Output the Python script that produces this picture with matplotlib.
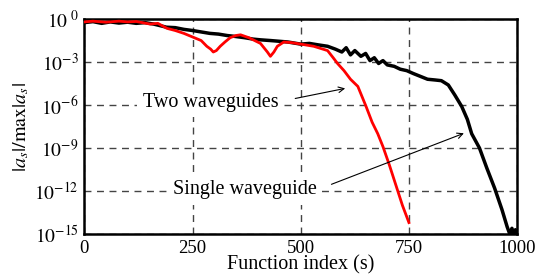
import numpy as np
import matplotlib
matplotlib.use("Agg")
import matplotlib.pyplot as plt

plt.rcParams['font.family'] = ['Liberation Serif', 'DejaVu Serif']
plt.rcParams['mathtext.fontset'] = 'stix'

# two waveguides (black), log10 of normalised coefficient
two_x = [0, 20, 40, 60, 80, 100, 120, 140, 160, 190, 210, 230, 250, 270, 290, 310, 330, 345,
         370, 390, 407, 430, 450, 470, 500, 520, 540, 562, 580, 595, 605, 615, 625, 639,
         650, 660, 670, 680, 690, 700, 716, 730, 745, 760, 793, 810, 825, 841, 856, 872,
         885, 895, 913, 930, 948, 965, 977, 983, 988, 992, 996, 1000]
two_y = [-0.25, -0.18, -0.3, -0.2, -0.28, -0.22, -0.3, -0.25, -0.35, -0.57, -0.6, -0.72, -0.8,
         -0.9, -1.0, -1.05, -1.15, -1.2, -1.3, -1.4, -1.45, -1.5, -1.55, -1.6, -1.75, -1.7,
         -1.8, -1.9, -2.1, -2.3, -2.0, -2.5, -2.2, -2.6, -2.4, -2.9, -2.7, -3.1, -2.9, -3.2,
         -3.3, -3.5, -3.6, -3.8, -4.2, -4.25, -4.3, -4.6, -5.3, -6.1, -7.0, -8.0, -9.0,
         -10.4, -11.8, -13.3, -14.5, -15.0, -14.6, -15.0, -14.7, -14.9]

# single waveguide (red)
one_x = [0, 20, 50, 80, 100, 120, 152, 170, 191, 210, 230, 250, 270, 283, 292, 298, 305, 314,
         325, 337, 350, 361, 380, 407, 423, 430, 438, 446, 461, 480, 500, 530, 562, 575, 585,
         600, 615, 632, 651, 665, 678, 690, 705, 720, 735, 750]
one_y = [-0.2, -0.15, -0.22, -0.15, -0.2, -0.17, -0.35, -0.3, -0.65, -0.8, -1.0, -1.25, -1.5,
         -1.9, -2.1, -2.3, -2.2, -1.9, -1.6, -1.3, -1.15, -1.1, -1.3, -1.7, -2.3, -2.6, -2.3,
         -1.9, -1.6, -1.65, -1.75, -1.9, -2.2, -2.7, -3.1, -3.6, -4.2, -4.7, -6.1, -7.2, -8.0,
         -8.9, -10.2, -11.6, -13.0, -14.2]

x_ticks = [0, 250, 500, 750, 1000]
y_exps = [0, -3, -6, -9, -12, -15]

fig = plt.figure(figsize=(5.37, 2.76), dpi=100)
ax = fig.add_axes([0.157, 0.152, 0.806, 0.779])

ax.semilogy(two_x, 10.0 ** np.array(two_y), color='black', lw=2.5, zorder=3)
ax.semilogy(one_x, 10.0 ** np.array(one_y), color='red', lw=2.0, zorder=4)

ax.set_xlim(0, 1000)
ax.set_ylim(1e-15, 1e0)
ax.set_xticks(x_ticks)
ax.set_xticklabels([str(t) for t in x_ticks], fontsize=13.5)
ax.set_yticks([10.0 ** e for e in y_exps])
ax.set_yticklabels([r'$10^{%d}$' % e if e else r'$10^{\ 0}$' for e in y_exps], fontsize=14)
ax.minorticks_off()
ax.tick_params(length=0, pad=4)
ax.grid(True, color='#444444', ls=(0, (5, 4)), lw=1.0, zorder=1)
for s in ax.spines.values():
    s.set_linewidth(1.8)

ax.set_xlabel('Function index (s)', fontsize=14.5, labelpad=-1)
ax.set_ylabel(r'$|a_s|/\max|a_s|$', fontsize=14.5, labelpad=2)

box = dict(facecolor='white', edgecolor='none', pad=4)
ax.text(292, 10 ** -5.8, 'Two waveguides', fontsize=14.5, ha='center', va='center',
        bbox=box, zorder=5)
ax.text(370, 10 ** -11.9, 'Single waveguide', fontsize=14.5, ha='center', va='center',
        bbox=box, zorder=5)
arr = dict(arrowstyle='->', color='black', lw=0.8)
ax.annotate('', xy=(609, 10 ** -4.8), xytext=(481, 10 ** -5.58), arrowprops=arr, zorder=6)
ax.annotate('', xy=(883, 10 ** -7.9), xytext=(565, 10 ** -11.6), arrowprops=arr, zorder=6)

fig.savefig('out.png', dpi=100)
